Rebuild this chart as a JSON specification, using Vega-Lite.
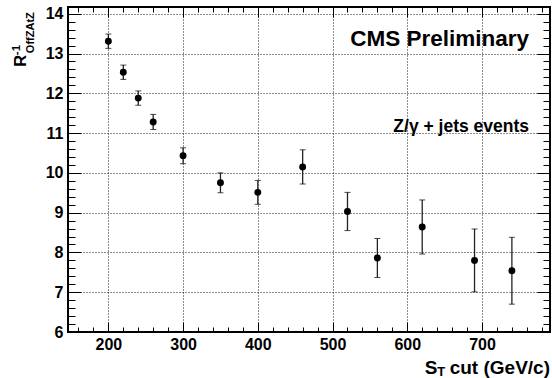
{
  "$schema": "https://vega.github.io/schema/vega-lite/v6.json",
  "width": 482,
  "height": 325,
  "autosize": {"type": "none"},
  "padding": {"left": 68, "top": 7, "right": 2, "bottom": 46},
  "background": "white",
  "config": {
    "view": {"stroke": "black", "strokeWidth": 2},
    "font": "Liberation Sans",
    "text": {"font": "Liberation Sans", "fontWeight": "bold", "color": "black"}
  },
  "data": {
    "values": [
      {"x": 200, "r": 13.31, "lo": 13.13, "hi": 13.49},
      {"x": 220, "r": 12.53, "lo": 12.35, "hi": 12.71},
      {"x": 240, "r": 11.88, "lo": 11.70, "hi": 12.06},
      {"x": 260, "r": 11.28, "lo": 11.09, "hi": 11.47},
      {"x": 300, "r": 10.43, "lo": 10.23, "hi": 10.63},
      {"x": 350, "r": 9.75, "lo": 9.50, "hi": 10.00},
      {"x": 400, "r": 9.51, "lo": 9.21, "hi": 9.81},
      {"x": 460, "r": 10.15, "lo": 9.72, "hi": 10.58},
      {"x": 520, "r": 9.03, "lo": 8.55, "hi": 9.51},
      {"x": 560, "r": 7.86, "lo": 7.37, "hi": 8.35},
      {"x": 620, "r": 8.64, "lo": 7.96, "hi": 9.32},
      {"x": 690, "r": 7.80, "lo": 7.01, "hi": 8.59},
      {"x": 740, "r": 7.54, "lo": 6.70, "hi": 8.38}
    ]
  },
  "resolve": {"axis": {"x": "independent", "y": "independent"}},
  "layer": [
    {
      "mark": {"type": "rule", "color": "#222222", "strokeWidth": 1.3},
      "encoding": {
        "x": {"field": "x", "type": "quantitative", "scale": {"domain": [146, 791], "nice": false, "zero": false},
          "axis": {"orient": "bottom", "values": [160,180,220,240,260,280,320,340,360,380,420,440,460,480,520,540,560,580,620,640,660,680,720,740,760,780],
            "labels": false, "domain": false, "grid": false, "tickSize": -5, "tickColor": "black", "tickWidth": 1, "title": null}},
        "y": {"field": "lo", "type": "quantitative", "scale": {"domain": [6, 14.17], "nice": false, "zero": false},
          "axis": {"orient": "left", "values": [6.2,6.4,6.6,6.8,7.2,7.4,7.6,7.8,8.2,8.4,8.6,8.8,9.2,9.4,9.6,9.8,10.2,10.4,10.6,10.8,11.2,11.4,11.6,11.8,12.2,12.4,12.6,12.8,13.2,13.4,13.6,13.8],
            "labels": false, "domain": false, "grid": false, "tickSize": -7, "tickColor": "black", "tickWidth": 1, "title": null}},
        "y2": {"field": "hi"}
      }
    },
    {
      "mark": {"type": "tick", "orient": "horizontal", "color": "black", "size": 6, "thickness": 1},
      "encoding": {
        "x": {"field": "x", "type": "quantitative", "scale": {"domain": [146, 791], "nice": false, "zero": false},
          "axis": {"orient": "top", "values": [200,300,400,500,600,700], "labels": false, "domain": false, "grid": false, "tickSize": -10, "tickColor": "black", "tickWidth": 1, "title": null}},
        "y": {"field": "lo", "type": "quantitative", "scale": {"domain": [6, 14.17], "nice": false, "zero": false},
          "axis": {"orient": "right", "values": [7,8,9,10,11,12,13,14], "labels": false, "domain": false, "grid": false, "tickSize": -13, "tickColor": "black", "tickWidth": 1, "title": null}}
      }
    },
    {
      "mark": {"type": "tick", "orient": "horizontal", "color": "black", "size": 6, "thickness": 1},
      "encoding": {
        "x": {"field": "x", "type": "quantitative", "scale": {"domain": [146, 791], "nice": false, "zero": false},
          "axis": {"orient": "top", "values": [160,180,220,240,260,280,320,340,360,380,420,440,460,480,520,540,560,580,620,640,660,680,720,740,760,780],
            "labels": false, "domain": false, "grid": false, "tickSize": -5, "tickColor": "black", "tickWidth": 1, "title": null}},
        "y": {"field": "hi", "type": "quantitative", "scale": {"domain": [6, 14.17], "nice": false, "zero": false},
          "axis": {"orient": "right", "values": [6.2,6.4,6.6,6.8,7.2,7.4,7.6,7.8,8.2,8.4,8.6,8.8,9.2,9.4,9.6,9.8,10.2,10.4,10.6,10.8,11.2,11.4,11.6,11.8,12.2,12.4,12.6,12.8,13.2,13.4,13.6,13.8],
            "labels": false, "domain": false, "grid": false, "tickSize": -7, "tickColor": "black", "tickWidth": 1, "title": null}}
      }
    },
    {
      "mark": {"type": "point", "filled": true, "color": "black", "size": 48, "opacity": 1},
      "encoding": {
        "x": {"field": "x", "type": "quantitative", "scale": {"domain": [146, 791], "nice": false, "zero": false},
          "axis": {"orient": "bottom", "values": [200,300,400,500,600,700], "domain": false, "grid": true, "gridColor": "black", "gridDash": [1,2], "gridWidth": 1, "gridOpacity": 0.9,
            "tickSize": -10, "tickColor": "black", "tickWidth": 1, "labelPadding": 14,
            "labelFont": "Liberation Sans", "labelFontWeight": "bold", "labelFontSize": 16, "labelColor": "black", "labelFlush": false, "labelOverlap": false, "title": null}},
        "y": {"field": "r", "type": "quantitative", "scale": {"domain": [6, 14.17], "nice": false, "zero": false},
          "axis": {"orient": "left", "values": [6,7,8,9,10,11,12,13,14], "domain": false, "grid": true, "gridColor": "black", "gridDash": [1,2], "gridWidth": 1, "gridOpacity": 0.9,
            "tickSize": -13, "tickColor": "black", "tickWidth": 1, "labelPadding": 18,
            "labelFont": "Liberation Sans", "labelFontWeight": "bold", "labelFontSize": 16, "labelColor": "black", "labelFlush": false, "labelOverlap": false, "title": null}}
      }
    },
    {
      "data": {"values": [{}]},
      "mark": {"type": "text", "text": "CMS Preliminary", "align": "right", "baseline": "alphabetic", "fontSize": 22.5},
      "encoding": {"x": {"datum": 763, "type": "quantitative", "scale": {"domain": [146, 791], "nice": false, "zero": false}, "axis": null}, "y": {"datum": 13.19, "type": "quantitative", "scale": {"domain": [6, 14.17], "nice": false, "zero": false}, "axis": null}}
    },
    {
      "data": {"values": [{}]},
      "mark": {"type": "text", "text": "Z/γ + jets events", "align": "right", "baseline": "alphabetic", "fontSize": 17.5},
      "encoding": {"x": {"datum": 763, "type": "quantitative", "scale": {"domain": [146, 791], "nice": false, "zero": false}, "axis": null}, "y": {"datum": 11.03, "type": "quantitative", "scale": {"domain": [6, 14.17], "nice": false, "zero": false}, "axis": null}}
    },
    {
      "data": {"values": [{}]},
      "mark": {"type": "text", "text": "cut (GeV/c)", "align": "right", "baseline": "alphabetic", "fontSize": 19},
      "encoding": {"x": {"datum": 791, "type": "quantitative", "scale": {"domain": [146, 791], "nice": false, "zero": false}, "axis": null}, "y": {"datum": 4.952, "type": "quantitative", "scale": {"domain": [6, 14.17], "nice": false, "zero": false}, "axis": null}}
    },
    {
      "data": {"values": [{}]},
      "mark": {"type": "text", "text": "S", "align": "left", "baseline": "alphabetic", "fontSize": 19},
      "encoding": {"x": {"datum": 623.5, "type": "quantitative", "scale": {"domain": [146, 791], "nice": false, "zero": false}, "axis": null}, "y": {"datum": 4.952, "type": "quantitative", "scale": {"domain": [6, 14.17], "nice": false, "zero": false}, "axis": null}}
    },
    {
      "data": {"values": [{}]},
      "mark": {"type": "text", "text": "T", "align": "left", "baseline": "alphabetic", "fontSize": 13},
      "encoding": {"x": {"datum": 640, "type": "quantitative", "scale": {"domain": [146, 791], "nice": false, "zero": false}, "axis": null}, "y": {"datum": 4.9, "type": "quantitative", "scale": {"domain": [6, 14.17], "nice": false, "zero": false}, "axis": null}}
    },
    {
      "data": {"values": [{}]},
      "mark": {"type": "text", "text": "R", "align": "left", "baseline": "alphabetic", "fontSize": 16.5, "angle": 270},
      "encoding": {"x": {"datum": 89.8, "type": "quantitative", "scale": {"domain": [146, 791], "nice": false, "zero": false}, "axis": null}, "y": {"datum": 12.67, "type": "quantitative", "scale": {"domain": [6, 14.17], "nice": false, "zero": false}, "axis": null}}
    },
    {
      "data": {"values": [{}]},
      "mark": {"type": "text", "text": "-1", "align": "left", "baseline": "alphabetic", "fontSize": 11.5, "angle": 270},
      "encoding": {"x": {"datum": 81.1, "type": "quantitative", "scale": {"domain": [146, 791], "nice": false, "zero": false}, "axis": null}, "y": {"datum": 12.96, "type": "quantitative", "scale": {"domain": [6, 14.17], "nice": false, "zero": false}, "axis": null}}
    },
    {
      "data": {"values": [{}]},
      "mark": {"type": "text", "text": "OffZAtZ", "align": "left", "baseline": "alphabetic", "fontSize": 11, "angle": 270},
      "encoding": {"x": {"datum": 100.5, "type": "quantitative", "scale": {"domain": [146, 791], "nice": false, "zero": false}, "axis": null}, "y": {"datum": 13.01, "type": "quantitative", "scale": {"domain": [6, 14.17], "nice": false, "zero": false}, "axis": null}}
    }
  ]
}
